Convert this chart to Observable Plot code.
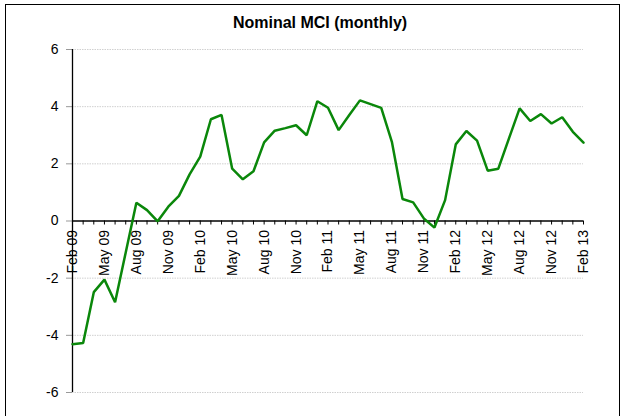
<!DOCTYPE html>
<html>
<head>
<meta charset="utf-8">
<script src="https://cdn.jsdelivr.net/npm/d3@7"></script>
<script src="https://cdn.jsdelivr.net/npm/@observablehq/plot@0.6"></script>
<style>
  html, body { margin: 0; padding: 0; background: #fff; }
  #wrap { position: relative; width: 626px; height: 416px; overflow: hidden; font-family: Arial, "Liberation Sans", sans-serif; }
  #border { position: absolute; left: 5px; top: 4px; width: 615px; height: 430px; border: 1.5px solid #000; box-sizing: border-box; }
  #title { position: absolute; left: 0; width: 640px; top: 14px; text-align: center; font-weight: bold; font-size: 16px; color: #000; }
  #chart { position: absolute; left: 0; top: 0; }
</style>
</head>
<body>
<div id="wrap">
  <div id="border"></div>
  <div id="chart"></div>
  <div id="title">Nominal MCI (monthly)</div>
</div>
<script>
const months = [
  "Feb 09","Mar 09","Apr 09","May 09","Jun 09","Jul 09","Aug 09","Sep 09","Oct 09","Nov 09","Dec 09",
  "Jan 10","Feb 10","Mar 10","Apr 10","May 10","Jun 10","Jul 10","Aug 10","Sep 10","Oct 10","Nov 10","Dec 10",
  "Jan 11","Feb 11","Mar 11","Apr 11","May 11","Jun 11","Jul 11","Aug 11","Sep 11","Oct 11","Nov 11","Dec 11",
  "Jan 12","Feb 12","Mar 12","Apr 12","May 12","Jun 12","Jul 12","Aug 12","Sep 12","Oct 12","Nov 12","Dec 12",
  "Jan 13","Feb 13"
];
const mci = [
  -4.31, -4.27, -2.49, -2.05, -2.84, -1.10, 0.64, 0.38, -0.01, 0.50, 0.88,
  1.63, 2.25, 3.56, 3.71, 1.83, 1.46, 1.74, 2.75, 3.16, 3.25, 3.35, 3.00,
  4.19, 3.96, 3.18, 3.71, 4.22, 4.09, 3.96, 2.77, 0.77, 0.65, 0.09, -0.23,
  0.73, 2.68, 3.15, 2.81, 1.76, 1.83, 2.89, 3.94, 3.50, 3.74, 3.41, 3.63,
  3.12, 2.74
];
const xTickLabels = ["Feb 09","May 09","Aug 09","Nov 09","Feb 10","May 10","Aug 10","Nov 10","Feb 11","May 11","Aug 11","Nov 11","Feb 12","May 12","Aug 12","Nov 12","Feb 13"];
const yTicks = [-6, -4, -2, 0, 2, 4, 6];
const yGrid = [-6, -4, -2, 2, 4, 6];

const data = months.map((m, i) => ({month: m, value: mci[i]}));

const chart = Plot.plot({
  width: 626,
  height: 416,
  marginLeft: 72,
  marginRight: 43,
  marginTop: 49,
  marginBottom: 24,
  style: {fontFamily: "Arial, 'Liberation Sans', sans-serif", background: "transparent", overflow: "visible"},
  x: {type: "point", domain: months, padding: 0, axis: null},
  y: {domain: [-6, 6], axis: null, label: null},
  marks: [
    Plot.gridY(yGrid, {stroke: "#d0d0d0", strokeOpacity: 1, strokeDasharray: "1.5,1", strokeWidth: 1}),
    Plot.axisY(yTicks, {label: null, tickSize: 6, tickPadding: 8, fontSize: 14, stroke: "#999", fill: "#000", tickFormat: d => d < 0 ? "-" + Math.abs(d) : String(d)}),
    Plot.ruleX([months[0]], {y1: -6, y2: 6, stroke: "#000", strokeWidth: 1.3}),
    Plot.ruleY([0], {stroke: "#000", strokeWidth: 1.3}),
    Plot.ruleX(months, {x: d => d, y1: 0, y2: -0.14, stroke: "#000", strokeWidth: 1}),
    Plot.text(xTickLabels, {x: d => d, y: () => 0, text: d => d, rotate: -90, textAnchor: "end", lineAnchor: "middle", dy: 9, fontSize: 14, fill: "#000"}),
    Plot.line(data, {x: "month", y: "value", stroke: "#0a870a", strokeWidth: 2.5, strokeLinejoin: "miter"})
  ]
});
document.getElementById("chart").appendChild(chart);
</script>
</body>
</html>
